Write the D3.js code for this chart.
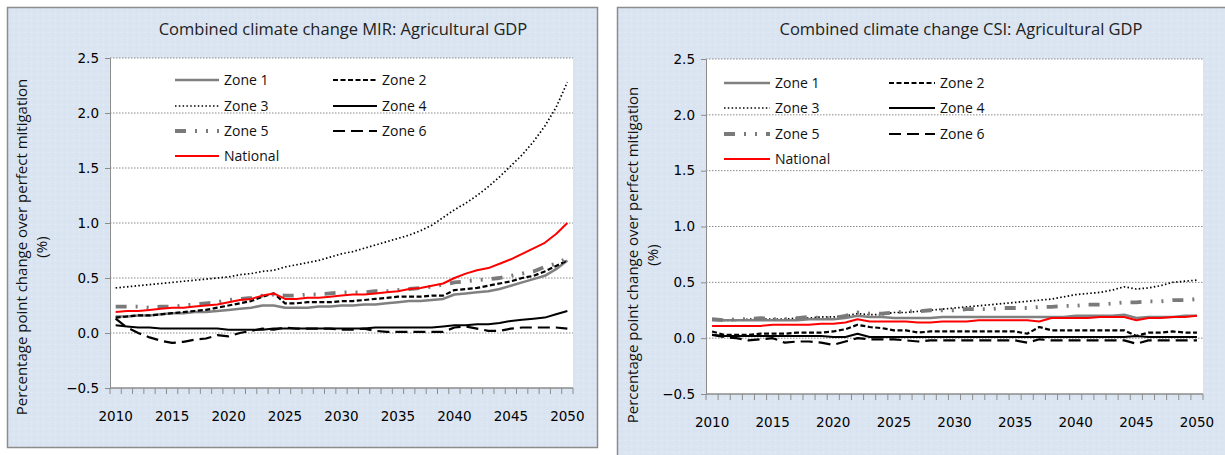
<!DOCTYPE html>
<html>
<head>
<meta charset="utf-8">
<script src="https://cdn.jsdelivr.net/npm/d3@7"></script>
<style>
  body { margin: 0; background: #fff; }
  svg { display: block; }
</style>
</head>
<body>
<svg id="chart" width="1225" height="455"></svg>
<script>
// years on the category axis
const years = d3.range(2010, 2051);
const yTicks = [-0.5, 0, 0.5, 1, 1.5, 2, 2.5];
const seriesNames = ["Zone 1", "Zone 2", "Zone 3", "Zone 4", "Zone 5", "Zone 6", "National"];

// MIR panel values (2010..2050)
const mirZone1 = [0.15,0.15,0.16,0.16,0.17,0.18,0.18,0.19,0.19,0.20,0.21,0.22,0.23,0.25,0.25,0.23,0.23,0.23,0.24,0.24,0.25,0.25,0.26,0.26,0.27,0.28,0.29,0.29,0.30,0.31,0.35,0.36,0.37,0.38,0.40,0.43,0.46,0.49,0.52,0.58,0.66];
const mirZone2 = [0.14,0.15,0.16,0.16,0.17,0.18,0.19,0.20,0.21,0.23,0.25,0.27,0.29,0.33,0.36,0.27,0.27,0.28,0.28,0.28,0.29,0.29,0.30,0.31,0.32,0.33,0.33,0.33,0.34,0.34,0.39,0.40,0.41,0.43,0.45,0.47,0.50,0.52,0.56,0.61,0.66];
const mirZone3 = [0.41,0.42,0.43,0.44,0.45,0.46,0.47,0.48,0.49,0.50,0.51,0.53,0.54,0.56,0.57,0.60,0.62,0.64,0.66,0.69,0.72,0.74,0.77,0.80,0.83,0.86,0.89,0.93,0.98,1.05,1.12,1.18,1.25,1.33,1.42,1.52,1.62,1.74,1.88,2.05,2.28];
const mirZone4 = [0.07,0.06,0.05,0.05,0.04,0.04,0.04,0.04,0.04,0.04,0.03,0.03,0.03,0.03,0.04,0.04,0.04,0.04,0.04,0.04,0.04,0.04,0.04,0.05,0.05,0.05,0.05,0.05,0.05,0.06,0.07,0.07,0.08,0.08,0.09,0.11,0.12,0.13,0.14,0.17,0.20];
const mirZone5 = [0.24,0.24,0.24,0.23,0.24,0.24,0.25,0.26,0.27,0.28,0.30,0.31,0.32,0.34,0.35,0.34,0.34,0.35,0.35,0.36,0.37,0.37,0.37,0.38,0.38,0.39,0.40,0.41,0.42,0.44,0.46,0.47,0.48,0.49,0.50,0.52,0.54,0.56,0.60,0.63,0.68];
const mirZone6 = [0.13,0.05,0.00,-0.04,-0.07,-0.09,-0.08,-0.06,-0.05,-0.02,-0.03,0.00,0.02,0.04,0.03,0.05,0.04,0.04,0.04,0.04,0.03,0.03,0.04,0.02,0.01,0.01,0.01,0.01,0.01,0.01,0.05,0.06,0.04,0.02,0.02,0.04,0.05,0.05,0.05,0.05,0.04];
const mirNational = [0.19,0.20,0.20,0.21,0.22,0.23,0.23,0.24,0.25,0.26,0.28,0.30,0.31,0.34,0.36,0.31,0.31,0.32,0.32,0.33,0.34,0.35,0.35,0.36,0.37,0.38,0.40,0.41,0.43,0.45,0.50,0.54,0.57,0.59,0.63,0.67,0.72,0.77,0.82,0.90,1.00];

// CSI panel values (2010..2050)
const csiZone1 = [0.16,0.16,0.16,0.16,0.16,0.16,0.16,0.16,0.17,0.17,0.17,0.18,0.20,0.19,0.19,0.18,0.18,0.18,0.18,0.19,0.19,0.19,0.19,0.19,0.19,0.19,0.19,0.19,0.19,0.19,0.20,0.20,0.20,0.20,0.21,0.18,0.19,0.19,0.19,0.20,0.20];
const csiZone2 = [0.06,0.03,0.03,0.03,0.04,0.04,0.04,0.05,0.05,0.05,0.06,0.08,0.12,0.10,0.09,0.07,0.07,0.05,0.06,0.06,0.06,0.06,0.06,0.06,0.06,0.06,0.04,0.10,0.07,0.07,0.07,0.07,0.07,0.07,0.07,0.02,0.05,0.05,0.06,0.05,0.05];
const csiZone3 = [0.17,0.16,0.16,0.17,0.17,0.17,0.17,0.18,0.18,0.19,0.19,0.20,0.22,0.21,0.21,0.23,0.23,0.24,0.25,0.26,0.27,0.28,0.29,0.30,0.31,0.32,0.33,0.34,0.35,0.37,0.39,0.40,0.41,0.43,0.46,0.44,0.45,0.47,0.50,0.51,0.52];
const csiZone4 = [0.03,0.02,0.02,0.02,0.02,0.02,0.02,0.02,0.02,0.02,0.01,0.01,0.04,0.01,0.01,0.01,0.01,0.01,0.01,0.01,0.01,0.01,0.01,0.01,0.01,0.01,0.01,0.01,0.01,0.01,0.01,0.01,0.01,0.01,0.01,0.02,0.01,0.01,0.01,0.01,0.01];
const csiZone5 = [0.17,0.16,0.17,0.17,0.18,0.17,0.17,0.18,0.19,0.18,0.18,0.20,0.23,0.22,0.22,0.23,0.24,0.24,0.25,0.25,0.25,0.26,0.26,0.26,0.27,0.27,0.27,0.28,0.28,0.29,0.29,0.30,0.30,0.31,0.32,0.32,0.33,0.33,0.34,0.34,0.35];
const csiZone6 = [0.03,0.01,0.00,-0.02,-0.01,0.00,-0.04,-0.03,-0.03,-0.04,-0.06,-0.03,0.00,-0.01,-0.01,-0.01,-0.02,-0.03,-0.02,-0.02,-0.02,-0.02,-0.02,-0.02,-0.02,-0.02,-0.04,-0.01,-0.02,-0.02,-0.02,-0.02,-0.02,-0.02,-0.02,-0.05,-0.02,-0.02,-0.02,-0.02,-0.02];
const csiNational = [0.11,0.11,0.11,0.11,0.11,0.12,0.12,0.12,0.12,0.13,0.13,0.14,0.17,0.15,0.15,0.15,0.15,0.14,0.14,0.15,0.15,0.15,0.16,0.16,0.16,0.16,0.16,0.15,0.18,0.18,0.18,0.18,0.19,0.19,0.19,0.16,0.18,0.18,0.19,0.19,0.20];

const styles = {
  "Zone 1": { color: "#808080", width: 2.5, dash: null },
  "Zone 2": { color: "#000", width: 2.2, dash: "5,2.5" },
  "Zone 3": { color: "#000", width: 1.7, dash: "1.5,2.3" },
  "Zone 4": { color: "#000", width: 2, dash: null },
  "Zone 5": { color: "#7a7a7a", width: 3.8, dash: "11,9,2,9,2,9" },
  "Zone 6": { color: "#000", width: 2.2, dash: "12,6" },
  "National": { color: "#ff0000", width: 2, dash: null }
};

const svg = d3.select("#chart");

// faint dotted texture like the chart area fill
const pat = svg.append("defs").append("pattern")
  .attr("id", "dots").attr("width", 6).attr("height", 6)
  .attr("patternUnits", "userSpaceOnUse");
pat.append("rect").attr("width", 6).attr("height", 6).attr("fill", "#dbe5f1");
pat.append("rect").attr("x", 1).attr("y", 2).attr("width", 1).attr("height", 1).attr("fill", "#e9f0f8");
pat.append("rect").attr("x", 4).attr("y", 5).attr("width", 1).attr("height", 1).attr("fill", "#cfdcec");

function drawPanel(p) {
  const g = svg.append("g");

  g.append("rect")
    .attr("x", p.box[0]).attr("y", p.box[1])
    .attr("width", p.box[2]).attr("height", p.box[3])
    .attr("fill", "url(#dots)")
    .attr("stroke", "#8c8c8c").attr("stroke-width", 1.5);

  const x = d3.scaleBand().domain(years).range([p.left, p.right]);
  const y = d3.scaleLinear().domain([-0.5, 2.5]).range([p.bottom, p.top]);

  g.append("rect")
    .attr("x", p.left).attr("y", p.top)
    .attr("width", p.right - p.left).attr("height", p.bottom - p.top)
    .attr("fill", "#fff");

  // grid
  g.append("g").selectAll("line")
    .data(yTicks.filter(d => d > -0.5))
    .join("line")
    .attr("x1", p.left).attr("x2", p.right)
    .attr("y1", d => y(d)).attr("y2", d => y(d))
    .attr("stroke", "#8a8a8a").attr("stroke-width", 1)
    .attr("stroke-dasharray", "1.5,1.5");

  // y axis
  const yAxis = g.append("g")
    .attr("transform", `translate(${p.left},0)`)
    .call(d3.axisLeft(y).tickValues(yTicks).tickFormat(d3.format(".1f")).tickSize(5).tickPadding(6));
  yAxis.select(".domain").attr("stroke", "#8c8c8c");
  yAxis.selectAll(".tick line").attr("stroke", "#8c8c8c");
  yAxis.selectAll("text")
    .attr("font-family", "DejaVu Sans").attr("font-size", 13.5).attr("fill", "#000");

  // x axis: ticks at every category boundary
  const xAxis = g.append("g").attr("transform", `translate(0,${p.bottom})`);
  xAxis.append("line")
    .attr("x1", p.left).attr("x2", p.right)
    .attr("stroke", "#8c8c8c").attr("stroke-width", 1.5);
  xAxis.selectAll(".bt")
    .data(years.concat([2051]))
    .join("line").attr("class", "bt")
    .attr("x1", d => d === 2051 ? p.right : x(d))
    .attr("x2", d => d === 2051 ? p.right : x(d))
    .attr("y1", 0).attr("y2", 6)
    .attr("stroke", "#8c8c8c");
  xAxis.selectAll("text")
    .data(years.filter(d => d % 5 === 0))
    .join("text")
    .attr("x", d => x(d) + x.bandwidth() / 2)
    .attr("y", 33)
    .attr("text-anchor", "middle")
    .attr("font-family", "DejaVu Sans").attr("font-size", 13.5).attr("fill", "#000")
    .text(d => d);

  // title
  g.append("text")
    .attr("x", p.titleX).attr("y", 35)
    .attr("text-anchor", "middle")
    .attr("font-family", "Open Sans").attr("font-size", 16.5).attr("fill", "#222")
    .text(p.title);

  // y title
  const yt = g.append("text")
    .attr("transform", `translate(${p.yTitleX},${p.yTitleY}) rotate(-90)`)
    .attr("text-anchor", "middle")
    .attr("font-family", "Open Sans").attr("font-size", 15).attr("fill", "#111");
  yt.append("tspan").attr("x", 0).attr("dy", 0).text("Percentage point change over perfect mitigation");
  yt.append("tspan").attr("x", 0).attr("dy", 20).text("(%)");

  // lines
  const line = d3.line()
    .x((d, i) => x(years[i]) + x.bandwidth() / 2)
    .y(d => y(d));
  const order = ["Zone 6", "Zone 4", "Zone 3", "Zone 1", "Zone 2", "Zone 5", "National"];
  order.forEach(name => {
    const s = styles[name];
    g.append("path")
      .datum(p.data[name])
      .attr("d", line)
      .attr("fill", "none")
      .attr("stroke", s.color)
      .attr("stroke-width", s.width)
      .attr("stroke-dasharray", s.dash)
      .attr("stroke-linejoin", "round");
  });

  // legend: two columns
  seriesNames.forEach((name, i) => {
    const s = styles[name];
    const col = i % 2, row = Math.floor(i / 2);
    const lx = p.legX[col], ly = p.legY[row];
    g.append("line")
      .attr("x1", lx).attr("x2", lx + p.legLen)
      .attr("y1", ly).attr("y2", ly)
      .attr("stroke", s.color).attr("stroke-width", s.width)
      .attr("stroke-dasharray", s.dash);
    g.append("text")
      .attr("x", lx + p.legLen + 5).attr("y", ly + 5)
      .attr("font-family", "Open Sans").attr("font-size", 14).attr("fill", "#111")
      .text(name);
  });
}

drawPanel({
  box: [7.5, 7.5, 590, 440],
  left: 110, right: 573, top: 58, bottom: 388,
  titleX: 343, yTitleX: 27, yTitleY: 247,
  title: "Combined climate change MIR: Agricultural GDP",
  legX: [175, 333], legY: [80, 106, 131, 156], legLen: 44,
  data: { "Zone 1": mirZone1, "Zone 2": mirZone2, "Zone 3": mirZone3, "Zone 4": mirZone4,
          "Zone 5": mirZone5, "Zone 6": mirZone6, "National": mirNational }
});

drawPanel({
  box: [617.5, 7.5, 640, 470],
  left: 706, right: 1203, top: 59, bottom: 394,
  titleX: 961, yTitleX: 638, yTitleY: 255,
  title: "Combined climate change CSI: Agricultural GDP",
  legX: [724, 889], legY: [83, 108, 134, 159], legLen: 46,
  data: { "Zone 1": csiZone1, "Zone 2": csiZone2, "Zone 3": csiZone3, "Zone 4": csiZone4,
          "Zone 5": csiZone5, "Zone 6": csiZone6, "National": csiNational }
});
</script>
</body>
</html>
